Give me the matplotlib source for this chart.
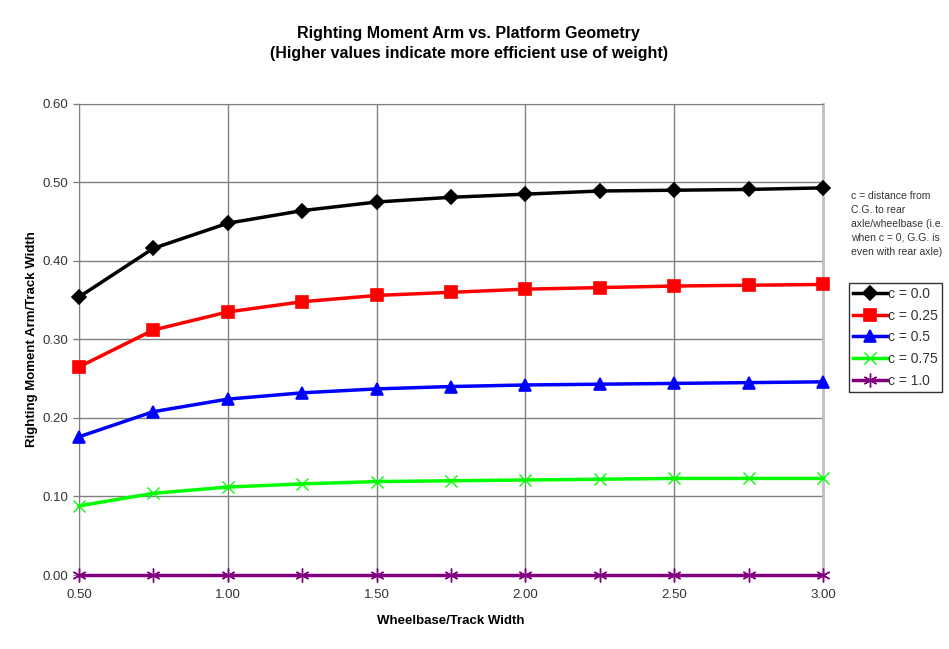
import matplotlib.pyplot as plt
import numpy as np

plt.rcParams['font.family'] = ['Liberation Sans', 'DejaVu Sans']

# Data
ratio = [0.50, 0.75, 1.00, 1.25, 1.50, 1.75, 2.00, 2.25, 2.50, 2.75, 3.00]
c_00 = [0.354, 0.416, 0.448, 0.464, 0.475, 0.481, 0.485, 0.489, 0.490, 0.491, 0.493]
c_025 = [0.265, 0.312, 0.335, 0.348, 0.356, 0.360, 0.364, 0.366, 0.368, 0.369, 0.370]
c_05 = [0.176, 0.208, 0.224, 0.232, 0.237, 0.240, 0.242, 0.243, 0.244, 0.245, 0.246]
c_075 = [0.088, 0.104, 0.112, 0.116, 0.119, 0.120, 0.121, 0.122, 0.123, 0.123, 0.123]
c_10 = [0.0, 0.0, 0.0, 0.0, 0.0, 0.0, 0.0, 0.0, 0.0, 0.0, 0.0]
labels = ['c = 0.0', 'c = 0.25', 'c = 0.5', 'c = 0.75', 'c = 1.0']

series = [c_00, c_025, c_05, c_075, c_10]
colors = ['#000000', '#FF0000', '#0000FF', '#00FF00', '#800080']
markers = ['D', 's', '^', 'x', (6, 2, 0)]
msizes = [7, 8.5, 8, 8, 10]
mews = [1.2, 1.2, 1.2, 1.0, 1.0]

fig = plt.figure(figsize=(9.49, 6.49), dpi=100)
ax = fig.add_axes([0.0832, 0.114, 0.784, 0.726])

for vals, col, mk, ms, mew, lab in zip(series, colors, markers, msizes, mews, labels):
    ax.plot(ratio, vals, color=col, marker=mk, markersize=ms, linewidth=2.5,
            markeredgewidth=mew, label=lab, clip_on=False, zorder=3)

ax.set_xlim(0.5, 3.0)
ax.set_ylim(0.0, 0.6)
ax.set_xticks(np.arange(0.5, 3.01, 0.5))
ax.set_yticks(np.arange(0.0, 0.61, 0.1))
ax.xaxis.set_major_formatter(plt.FormatStrFormatter('%.2f'))
ax.yaxis.set_major_formatter(plt.FormatStrFormatter('%.2f'))
ax.tick_params(axis='both', labelsize=9.5, colors='#808080', labelcolor='#333333',
               length=4, width=1, direction='out')
ax.tick_params(axis='x', pad=6)
ax.grid(True, color='#808080', linewidth=1, zorder=0)
ax.set_axisbelow(True)
for side in ['left', 'bottom', 'top']:
    ax.spines[side].set_color('#808080')
ax.spines['right'].set_color('#C0C0C0')
ax.spines['right'].set_linewidth(2)

ax.set_xlabel('Wheelbase/Track Width', fontsize=9.5, fontweight='bold', labelpad=10)
ax.set_ylabel('Righting Moment Arm/Track Width', fontsize=9.5, fontweight='bold', labelpad=3)

fig.text(0.494, 0.933, 'Righting Moment Arm vs. Platform Geometry\n'
         '(Higher values indicate more efficient use of weight)',
         ha='center', va='center', fontsize=11.5, fontweight='bold', linespacing=1.4)

fig.text(0.897, 0.706, 'c = distance from\nC.G. to rear\naxle/wheelbase (i.e.\n'
         'when c = 0, G.G. is\neven with rear axle)',
         ha='left', va='top', fontsize=7.5, color='#333333', linespacing=1.5)

leg = ax.legend(loc='upper left', bbox_to_anchor=(1.035, 0.62), fontsize=10,
                frameon=True, fancybox=False, edgecolor='black', handlelength=2.4,
                handletextpad=0.1, borderpad=0.3, labelspacing=0.55, borderaxespad=0)
leg.get_frame().set_linewidth(1)
for t in leg.get_texts():
    t.set_color('#333333')

fig.savefig('out.png', dpi=100)
